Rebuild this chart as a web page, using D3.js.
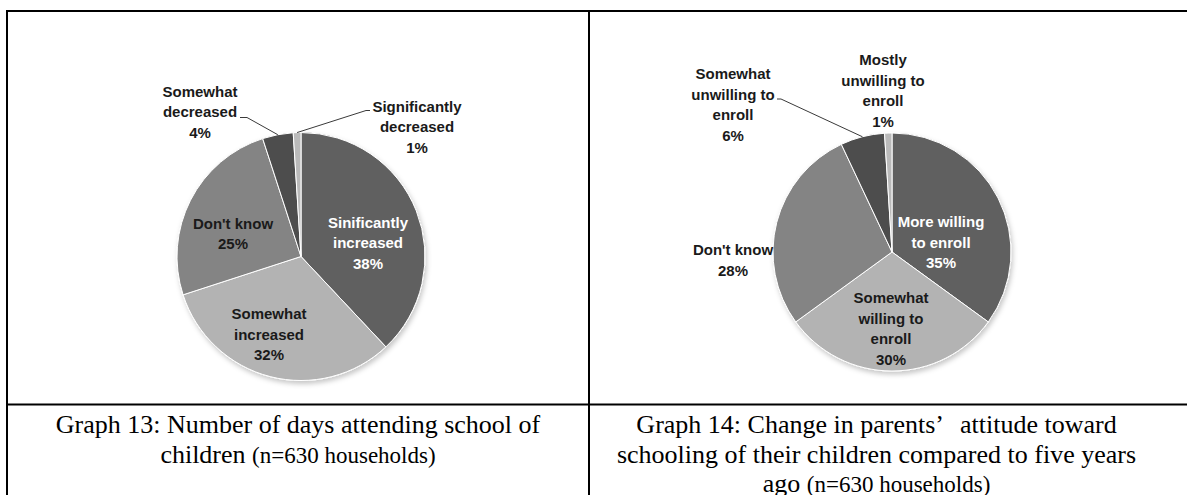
<!DOCTYPE html>
<html>
<head>
<meta charset="utf-8">
<script src="https://cdn.jsdelivr.net/npm/d3@7"></script>
<style>
  html, body { margin: 0; padding: 0; background: #fff; }
  svg { display: block; }
</style>
</head>
<body>
<svg id="chart" width="1187" height="495"></svg>
<script>
// ---- Graph 13: number of days attending school ----
const g13Categories = ["Sinificantly increased", "Somewhat increased", "Don't know", "Somewhat decreased", "Significantly decreased"];
const g13Values = [38, 32, 25, 4, 1];
const g13LabelLines = [["Sinificantly", "increased"], ["Somewhat", "increased"], ["Don't know"], ["Somewhat", "decreased"], ["Significantly", "decreased"]];
const g13Caption = ["Graph 13: Number of days attending school of", "children"];
const g13CaptionNote = "(n=630 households)";

// ---- Graph 14: parents' attitude toward schooling ----
const g14Categories = ["More willing to enroll", "Somewhat willing to enroll", "Don't know", "Somewhat unwilling to enroll", "Mostly unwilling to enroll"];
const g14Values = [35, 30, 28, 6, 1];
const g14LabelLines = [["More willing", "to enroll"], ["Somewhat", "willing to", "enroll"], ["Don't know"], ["Somewhat", "unwilling to", "enroll"], ["Mostly", "unwilling to", "enroll"]];
const g14Caption = ["Graph 14: Change in parents’", "attitude toward", "schooling of their children compared to five years", "ago"];
const g14CaptionNote = "(n=630 households)";

// slice fills, in category order
const sliceFills = ["#616161", "#b3b3b3", "#848484", "#4d4d4d", "#bababa"];
// label text fills, in category order
const labelFills = ["#ffffff", "#1a1a1a", "#1a1a1a", "#1a1a1a", "#1a1a1a"];

const svg = d3.select("#chart");

// soft shadow under the pies
const defs = svg.append("defs");
const shadow = defs.append("filter").attr("id", "pieShadow")
  .attr("x", "-20%").attr("y", "-20%").attr("width", "140%").attr("height", "140%");
shadow.append("feDropShadow")
  .attr("dx", 1.5).attr("dy", 3).attr("stdDeviation", 2.5)
  .attr("flood-color", "#000").attr("flood-opacity", 0.22);

// ---- table frame ----
const frame = svg.append("g").attr("stroke", "#000").attr("stroke-width", 2);
frame.append("line").attr("x1", 6).attr("x2", 1187).attr("y1", 11).attr("y2", 11);
frame.append("line").attr("x1", 6).attr("x2", 1187).attr("y1", 404.5).attr("y2", 404.5);
frame.append("line").attr("x1", 7).attr("x2", 7).attr("y1", 10).attr("y2", 495);
frame.append("line").attr("x1", 589).attr("x2", 589).attr("y1", 10).attr("y2", 495);

const LINE_H = 20.6;

function drawPie(opts) {
  const { cx, cy, r, categories, values, labelLines, labelLayout } = opts;
  const g = svg.append("g").attr("transform", `translate(${cx},${cy})`);

  const pie = d3.pie().value(d => d.value).sort(null);
  const arcs = pie(categories.map((c, i) => ({ category: c, value: values[i], i })));
  const arc = d3.arc().innerRadius(0).outerRadius(r);
  const edge = d3.arc().innerRadius(r).outerRadius(r);

  const slices = g.append("g").attr("filter", "url(#pieShadow)");
  slices.selectAll("path")
    .data(arcs)
    .join("path")
    .attr("d", arc)
    .attr("fill", d => sliceFills[d.data.i])
    .attr("stroke", "#ffffff")
    .attr("stroke-width", 1)
    .attr("stroke-linejoin", "round");

  // leader lines for the labels placed outside the pie
  arcs.forEach(d => {
    const lay = labelLayout[d.data.i];
    if (!lay.leader) return;
    const [ex, ey] = edge.centroid(d);
    const [ax, ay] = lay.leader.elbow;
    const [bx, by] = lay.leader.end;
    g.append("polyline")
      .attr("points", `${ex},${ey} ${ax},${ay} ${bx},${by}`)
      .attr("fill", "none")
      .attr("stroke", "#3a3a3a")
      .attr("stroke-width", 1);
  });

  // data labels: category name lines plus the percentage
  arcs.forEach(d => {
    const lay = labelLayout[d.data.i];
    const lines = labelLines[d.data.i].concat([`${d.data.value}%`]);
    const t = g.append("text")
      .attr("x", lay.dx)
      .attr("y", lay.dy)
      .attr("text-anchor", "middle")
      .attr("font-family", "'Liberation Sans', Arial, sans-serif")
      .attr("font-weight", "bold")
      .attr("font-size", 15)
      .attr("fill", labelFills[d.data.i]);
    lines.forEach((ln, k) => {
      t.append("tspan")
        .attr("x", lay.dx)
        .attr("dy", k === 0 ? 0 : LINE_H)
        .text(ln);
    });
  });
}

drawPie({
  cx: 301, cy: 256.5, r: 124,
  categories: g13Categories, values: g13Values, labelLines: g13LabelLines,
  labelLayout: [
    { dx: 67, dy: -29 },
    { dx: -32, dy: 62.5 },
    { dx: -68, dy: -28 },
    { dx: -101, dy: -160, leader: { elbow: [-54, -139], end: [-61, -139] } },
    { dx: 116, dy: -145, leader: { elbow: [65, -146], end: [69, -146] } }
  ]
});

drawPie({
  cx: 892, cy: 252, r: 119,
  categories: g14Categories, values: g14Values, labelLines: g14LabelLines,
  labelLayout: [
    { dx: 49, dy: -25 },
    { dx: -1, dy: 51 },
    { dx: -159, dy: 3 },
    { dx: -159, dy: -173, leader: { elbow: [-111, -153], end: [-115, -153] } },
    { dx: -9, dy: -187 }
  ]
});

// ---- captions ----
const capFont = "'Liberation Serif', 'Times New Roman', serif";
const CAP_H = 29.5;

function caption(cx, lines) {
  const t = svg.append("text")
    .attr("text-anchor", "middle")
    .attr("font-family", capFont)
    .attr("font-size", 26)
    .attr("fill", "#000");
  lines.forEach((ln, k) => {
    const s = t.append("tspan").attr("x", cx).attr("y", 433 + k * CAP_H);
    ln.forEach(part => {
      const p = s.append("tspan").text(part.text);
      if (part.size) p.attr("font-size", part.size);
      if (part.dx) p.attr("dx", part.dx);
    });
  });
}

caption(298, [
  [{ text: g13Caption[0] }],
  [{ text: g13Caption[1] + " " }, { text: g13CaptionNote, size: 23 }]
]);

caption(876.5, [
  [{ text: g14Caption[0] }, { text: g14Caption[1], dx: 16 }],
  [{ text: g14Caption[2] }],
  [{ text: g14Caption[3] + " " }, { text: g14CaptionNote, size: 23 }]
]);
</script>
</body>
</html>
